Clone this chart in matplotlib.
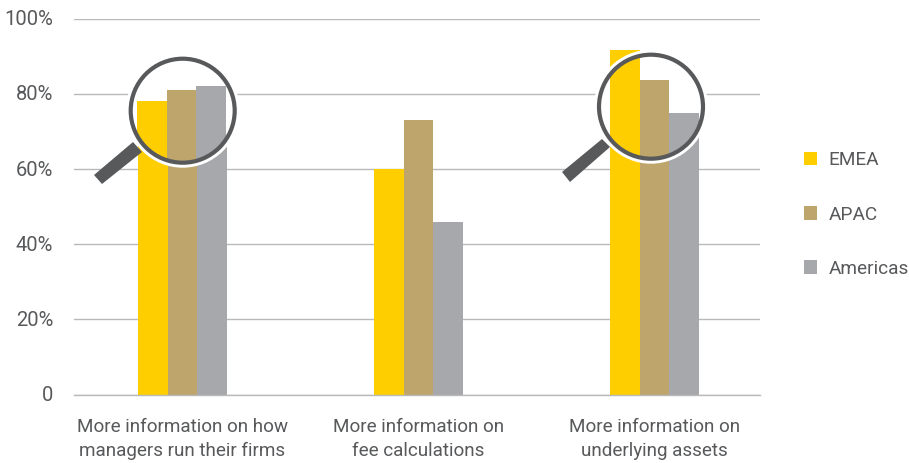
import matplotlib
matplotlib.use('Agg')
import numpy as np
import matplotlib.pyplot as plt
from matplotlib.patches import Circle, Polygon, Patch
from matplotlib.transforms import Affine2D, ScaledTranslation

categories = ['More information on how\nmanagers run their firms',
              'More information on\nfee calculations',
              'More information on\nunderlying assets']
emea = [78, 60, 91.7]
apac = [81, 73, 83.7]
americas = [82, 46, 75]
series_names = ['EMEA', 'APAC', 'Americas']
colors = ['#FFCE00', '#BDA56C', '#A7A8AC']
yticks = [0, 20, 40, 60, 80, 100]
yticklabels = ['0', '20%', '40%', '60%', '80%', '100%']

W, H = 909, 463
TXT = '#58595B'
plt.rcParams['font.family'] = ['Roboto', 'DejaVu Sans']

fig = plt.figure(figsize=(W/100, H/100), dpi=100)
ax = fig.add_axes([74/W, 1-394.6/H, (760-74)/W, (394.6-18.8)/H])

x = np.arange(3)
bw = 0.125
all_series = [emea, apac, americas]
for i, vals in enumerate(all_series):
    ax.bar(x+(i-1)*bw, vals, bw, color=colors[i], zorder=2, linewidth=0)

ax.set_xlim(-0.46, 2.447)
ax.set_ylim(0, 100)
ax.set_yticks(yticks)
ax.set_yticklabels(yticklabels, fontsize=14.5, color=TXT)
ax.set_xticks(x)
ax.set_xticklabels(categories, fontsize=13.6, color=TXT, linespacing=1.38)
ax.tick_params(axis='both', length=0)
ax.tick_params(axis='y', pad=15)
ax.tick_params(axis='x', pad=17)
ax.grid(axis='y', color='#B9B9B9', lw=1.0, zorder=1)
ax.set_axisbelow(True)
for s in ['top', 'right', 'left']:
    ax.spines[s].set_visible(False)
ax.spines['bottom'].set_color('#B9B9B9')
ax.spines['bottom'].set_linewidth(1.0)

# y labels sit a little above their gridlines
for lab in ax.get_yticklabels():
    lab.set_transform(lab.get_transform() + ScaledTranslation(0, 1/100, fig.dpi_scale_trans))

# magnifying glasses, drawn in pixels from the top left
px = Affine2D().scale(1, -1).translate(0, H)


def lens(cx, cy, handle, shift):
    ax.add_patch(Circle((cx, cy), 57, transform=px, fc='white', ec='none', zorder=3, clip_on=False))
    clip = Circle((cx, cy), 52, transform=px)
    off = ax.transData + ScaledTranslation(shift/100, 0, fig.dpi_scale_trans)
    for i, vals in enumerate(all_series):
        bars = ax.bar(x+(i-1)*bw, vals, bw, color=colors[i], zorder=4, linewidth=0, transform=off)
        for b in bars:
            b.set_clip_path(clip)
    ax.add_patch(Circle((cx, cy), 52, transform=px, fc='none', ec='#58595B', lw=3.0, zorder=5, clip_on=False))
    ax.add_patch(Polygon(handle, transform=px, fc='#58595B', ec='none', zorder=5, clip_on=False))


lens(182.7, 110.7, [(94, 175), (102, 184), (142, 152), (133, 142)], -1)
lens(651, 106.7, [(562, 172), (570, 182), (610, 147), (602, 139)], 0)

handles = [Patch(fc=c, ec='none') for c in colors]
fig.legend(handles, series_names, loc='center left', bbox_to_anchor=(804/W, 1-214.5/H),
           frameon=False, prop={'size': 13.7}, labelcolor=TXT, handlelength=0.7, handleheight=0.7,
           handletextpad=0.58, labelspacing=1.9, borderpad=0, borderaxespad=0)

fig.savefig('out.png', dpi=100)
